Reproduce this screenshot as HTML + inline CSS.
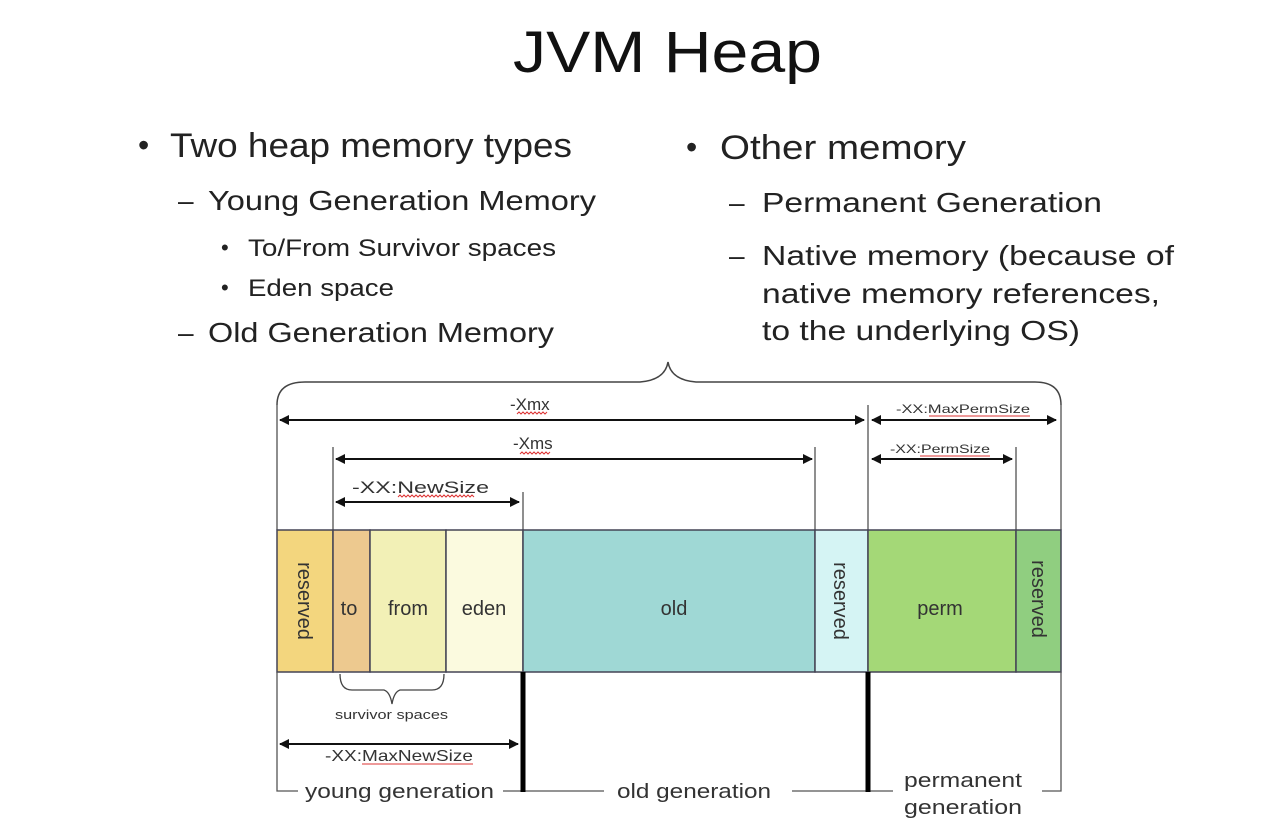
<!DOCTYPE html>
<html><head><meta charset="utf-8"><style>
html,body{margin:0;padding:0;background:#fff;width:1264px;height:825px;overflow:hidden}
svg{display:block}
text{font-family:"Liberation Sans",sans-serif}
</style></head><body>
<svg width="1264" height="825" viewBox="0 0 1264 825" xmlns="http://www.w3.org/2000/svg">
<defs>
<marker id="a" markerWidth="10" markerHeight="10" refX="9" refY="5" orient="auto-start-reverse" markerUnits="userSpaceOnUse"><path d="M0,0 L10,5 L0,10 z" fill="#111"/></marker>
</defs>
<text x="513" y="72" font-size="58" fill="#111" textLength="309" lengthAdjust="spacingAndGlyphs">JVM Heap</text>
<g fill="#222">
<text x="138" y="156" font-size="32">•</text>
<text x="170" y="157" font-size="34" textLength="402" lengthAdjust="spacingAndGlyphs">Two heap memory types</text>
<text x="178" y="210" font-size="28">–</text>
<text x="208" y="210" font-size="28" textLength="388" lengthAdjust="spacingAndGlyphs">Young Generation Memory</text>
<text x="221" y="255" font-size="22">•</text>
<text x="248" y="256" font-size="24" textLength="308" lengthAdjust="spacingAndGlyphs">To/From Survivor spaces</text>
<text x="221" y="295" font-size="22">•</text>
<text x="248" y="296" font-size="24" textLength="146" lengthAdjust="spacingAndGlyphs">Eden space</text>
<text x="178" y="342" font-size="28">–</text>
<text x="208" y="342" font-size="28" textLength="346" lengthAdjust="spacingAndGlyphs">Old Generation Memory</text>
<text x="686" y="158" font-size="32">•</text>
<text x="720" y="159" font-size="34" textLength="246" lengthAdjust="spacingAndGlyphs">Other memory</text>
<text x="729" y="212" font-size="28">–</text>
<text x="762" y="212" font-size="28" textLength="340" lengthAdjust="spacingAndGlyphs">Permanent Generation</text>
<text x="729" y="265" font-size="28">–</text>
<text x="762" y="265" font-size="28" textLength="412" lengthAdjust="spacingAndGlyphs">Native memory (because of</text>
<text x="762" y="303" font-size="28" textLength="398" lengthAdjust="spacingAndGlyphs">native memory references,</text>
<text x="762" y="340" font-size="28" textLength="318" lengthAdjust="spacingAndGlyphs">to the underlying OS)</text>
</g>
<!-- top brace -->
<path d="M277,405 Q277,382 305,382 L640,382 Q665,380 668,362 Q671,380 696,382 L1035,382 Q1061,382 1061,405" fill="none" stroke="#444" stroke-width="1.5"/>
<!-- vertical guides -->
<g stroke="#444" stroke-width="1.2">
<line x1="277" y1="405" x2="277" y2="530"/>
<line x1="333" y1="447" x2="333" y2="530"/>
<line x1="523" y1="492" x2="523" y2="530"/>
<line x1="815" y1="447" x2="815" y2="530"/>
<line x1="868" y1="405" x2="868" y2="530"/>
<line x1="1016" y1="447" x2="1016" y2="530"/>
<line x1="1061" y1="405" x2="1061" y2="530"/>
</g>
<g stroke="#111" stroke-width="2" marker-start="url(#a)" marker-end="url(#a)">
<line x1="280" y1="420" x2="864" y2="420"/>
<line x1="872" y1="420" x2="1056" y2="420"/>
<line x1="336" y1="459" x2="812" y2="459"/>
<line x1="872" y1="459" x2="1012" y2="459"/>
<line x1="336" y1="502" x2="519" y2="502"/>
<line x1="280" y1="744" x2="518" y2="744"/>
</g>
<g fill="#333">
<text x="510" y="410" font-size="17">-Xmx</text>
<text x="513" y="449" font-size="17">-Xms</text>
<text x="352" y="493" font-size="17" textLength="137" lengthAdjust="spacingAndGlyphs">-XX:NewSize</text>
<text x="896" y="413" font-size="12" textLength="134" lengthAdjust="spacingAndGlyphs">-XX:MaxPermSize</text>
<text x="890" y="453" font-size="12" textLength="100" lengthAdjust="spacingAndGlyphs">-XX:PermSize</text>
<text x="325" y="761" font-size="16" textLength="148" lengthAdjust="spacingAndGlyphs">-XX:MaxNewSize</text>
</g>
<g stroke="#d33" stroke-width="1" fill="none">
<path d="M517,414 l2,-2 2,2 2,-2 2,2 2,-2 2,2 2,-2 2,2 2,-2 2,2 2,-2 2,2 2,-2 2,2 2,-2"/>
<path d="M520,454 l2,-2 2,2 2,-2 2,2 2,-2 2,2 2,-2 2,2 2,-2 2,2 2,-2 2,2 2,-2 2,2 2,-2"/>
<path d="M398,497 l2,-2 2,2 2,-2 2,2 2,-2 2,2 2,-2 2,2 2,-2 2,2 2,-2 2,2 2,-2 2,2 2,-2 2,2 2,-2 2,2 2,-2 2,2 2,-2 2,2 2,-2 2,2 2,-2 2,2 2,-2 2,2 2,-2 2,2 2,-2 2,2 2,-2 2,2 2,-2 2,2 2,-2 2,2"/>
<line x1="929" y1="416" x2="1030" y2="416"/>
<line x1="920" y1="456" x2="990" y2="456"/>
<line x1="362" y1="764" x2="473" y2="764"/>
</g>
<!-- bar -->
<g stroke="#445" stroke-width="1.5">
<rect x="277" y="530" width="56" height="142" fill="#f3d67e"/>
<rect x="333" y="530" width="37" height="142" fill="#edc98f"/>
<rect x="370" y="530" width="76" height="142" fill="#f2f0b6"/>
<rect x="446" y="530" width="77" height="142" fill="#fbfadf"/>
<rect x="523" y="530" width="292" height="142" fill="#9fd8d5"/>
<rect x="815" y="530" width="53" height="142" fill="#d5f4f4"/>
<rect x="868" y="530" width="148" height="142" fill="#a4d877"/>
<rect x="1016" y="530" width="45" height="142" fill="#90ce80"/>
</g>
<g fill="#333" font-size="20">
<text x="349" y="615" text-anchor="middle">to</text>
<text x="408" y="615" text-anchor="middle">from</text>
<text x="484" y="615" text-anchor="middle">eden</text>
<text x="674" y="615" text-anchor="middle">old</text>
<text x="940" y="615" text-anchor="middle">perm</text>
<text transform="translate(298,601) rotate(90)" text-anchor="middle">reserved</text>
<text transform="translate(834,601) rotate(90)" text-anchor="middle">reserved</text>
<text transform="translate(1032,599) rotate(90)" text-anchor="middle">reserved</text>
</g>
<!-- below -->
<path d="M340,674 Q340,690 352,690 L384,690 Q390,692 392,704 Q394,692 400,690 L432,690 Q444,690 444,674" fill="none" stroke="#444" stroke-width="1.3"/>
<text x="335" y="719" font-size="13" fill="#333" textLength="113" lengthAdjust="spacingAndGlyphs">survivor spaces</text>
<g stroke="#555" stroke-width="1.3" fill="none">
<path d="M277,672 L277,791 L298,791"/>
<line x1="503" y1="791" x2="523" y2="791"/>
<line x1="523" y1="791" x2="604" y2="791"/>
<line x1="792" y1="791" x2="868" y2="791"/>
<line x1="868" y1="791" x2="893" y2="791"/>
<path d="M1042,791 L1061,791 L1061,672"/>
</g>
<line x1="523" y1="672" x2="523" y2="792" stroke="#000" stroke-width="5"/>
<line x1="868" y1="672" x2="868" y2="792" stroke="#000" stroke-width="5"/>
<g fill="#333" font-size="20">
<text x="305" y="798" textLength="189" lengthAdjust="spacingAndGlyphs">young generation</text>
<text x="617" y="798" textLength="154" lengthAdjust="spacingAndGlyphs">old generation</text>
<text x="904" y="787" textLength="118" lengthAdjust="spacingAndGlyphs">permanent</text>
<text x="904" y="814" textLength="118" lengthAdjust="spacingAndGlyphs">generation</text>
</g>
</svg>
</body></html>
